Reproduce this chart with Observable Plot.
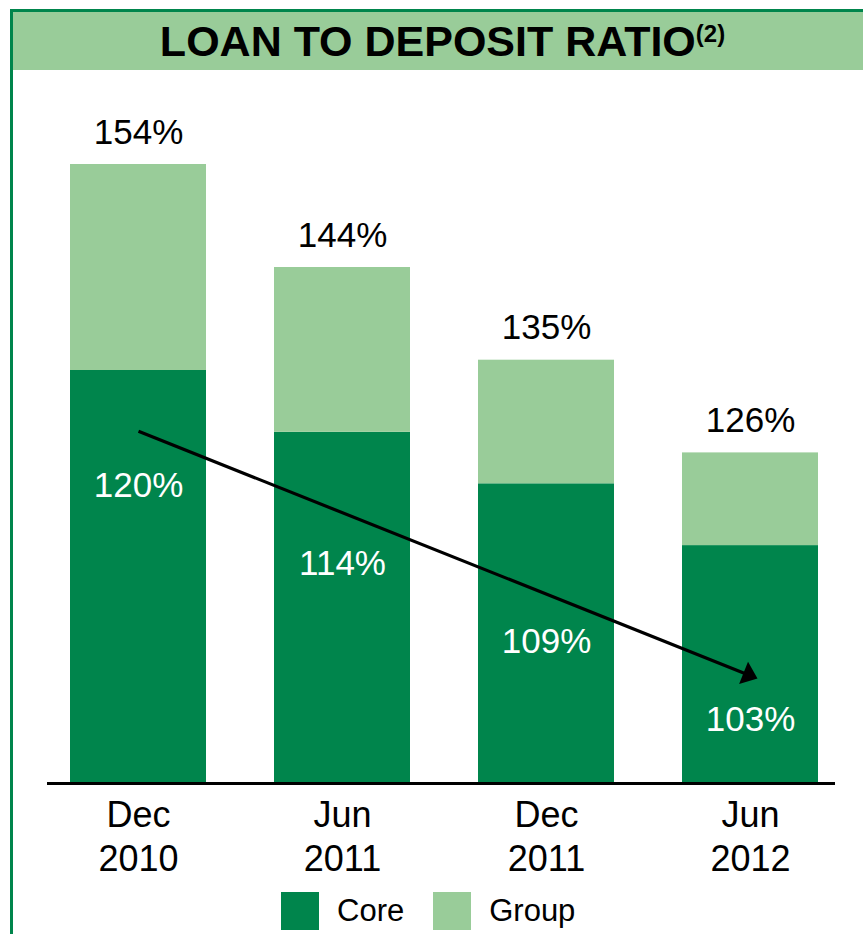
<!DOCTYPE html>
<html><head><meta charset="utf-8">
<script src="https://cdn.jsdelivr.net/npm/d3@7"></script>
<script src="https://cdn.jsdelivr.net/npm/@observablehq/plot@0.6"></script>
<style>
html,body{margin:0;padding:0;background:#fff;}
body{width:863px;height:934px;overflow:hidden;position:relative;font-family:"Liberation Sans",Arial,sans-serif;}
#frame{position:absolute;left:10px;top:9px;width:900px;height:940px;border-left:3px solid #00854C;border-top:3px solid #00854C;}
#title{position:absolute;left:13px;top:12px;width:859px;height:58px;background:#99CC99;text-align:center;font-weight:bold;font-size:43px;line-height:58px;color:#000;white-space:nowrap;}
#title sup{font-size:24px;line-height:0;vertical-align:14px;}
#chart{position:absolute;left:0;top:70px;}
#legend{position:absolute;left:281px;top:892px;}
#legend .lg-swatches{margin:0 !important;min-height:0 !important;}
#legend .lg-swatch{margin-right:29px !important;line-height:38px;}
#legend .lg-swatch > svg{margin-right:18px !important;}
</style></head>
<body>
<div id="frame"></div>
<div id="title">LOAN TO DEPOSIT RATIO<sup>(2)</sup></div>
<div id="chart"></div>
<div id="legend"></div>
<script>
// ---- data ----
const periods = ["Dec 2010", "Jun 2011", "Dec 2011", "Jun 2012"];
const coreRatio = [120, 114, 109, 103];   // Core loan-to-deposit ratio, %
const groupRatio = [154, 144, 135, 126];  // Group loan-to-deposit ratio, %
const series = ["Core", "Group"];

// ---- styling / layout ----
const seriesColors = ["#00854C", "#99CC99"];
const AXIS_FLOOR = 80;     // value axis starts here (truncated axis in the original)
const GROUP_BREAK = 14;    // original draws the Group segment shortened (not to scale)
const coreLabelY = [108.85, 101.27, 93.65, 86.08]; // placement of the white Core labels
const trendFrom = 114.1, trendTo = 90.37, trendTip = 90.1;
const FONT = "Liberation Sans, Arial, sans-serif";

const rows = periods.flatMap((p, i) => [
  {period: p, series: "Core", lo: AXIS_FLOOR, hi: coreRatio[i]},
  {period: p, series: "Group", lo: coreRatio[i], hi: groupRatio[i] - GROUP_BREAK}
]);

const arrowHead = {
  draw(ctx) { ctx.moveTo(0, 0); ctx.lineTo(-15, -12); ctx.lineTo(-15, 12); ctx.closePath(); }
};

const chart = Plot.plot({
  width: 863,
  height: 815,
  marginTop: 0,
  marginLeft: 47,
  marginRight: 28,
  marginBottom: 103,
  style: {background: "transparent", color: "#000", fontFamily: FONT, overflow: "visible"},
  x: {type: "band", domain: periods, range: [36, 852], paddingInner: 1/3, paddingOuter: 1/6, label: null},
  y: {domain: [AXIS_FLOOR, 150], range: [712, 712 - 70 * 10.3], axis: null},
  color: {domain: series, range: seriesColors},
  marks: [
    Plot.barY(rows, {x: "period", y1: "lo", y2: "hi", fill: "series"}),
    Plot.ruleY([AXIS_FLOOR], {stroke: "#000", strokeWidth: 3, dy: 1}),
    Plot.text(periods, {x: d => d, y: (d, i) => groupRatio[i] - GROUP_BREAK, text: (d, i) => groupRatio[i] + "%",
      dy: -32, fontSize: 35, fill: "#000"}),
    Plot.text(periods, {x: d => d, y: (d, i) => coreLabelY[i], text: (d, i) => coreRatio[i] + "%",
      fontSize: 35, fill: "#fff"}),
    Plot.link([0], {x1: () => periods[0], y1: () => trendFrom, x2: () => periods[3], y2: () => trendTo,
      stroke: "#000", strokeWidth: 3.2}),
    Plot.dot([0], {x: () => periods[3], y: () => trendTip, dx: 7, symbol: arrowHead, r: 5,
      rotate: 21.77, fill: "#000", stroke: "none"}),
    Plot.axisX({tickSize: 0, tickPadding: 13, fontSize: 36, lineHeight: 1.23, label: null,
      tickFormat: d => d.replace(" ", "\n")})
  ]
});
document.getElementById("chart").appendChild(chart);

const legend = Plot.legend({
  color: {domain: series, range: seriesColors},
  legend: "swatches",
  swatchSize: 38,
  className: "lg",
  style: {fontFamily: FONT, fontSize: "31px", color: "#000"}
});
document.getElementById("legend").appendChild(legend);
</script>
</body></html>
